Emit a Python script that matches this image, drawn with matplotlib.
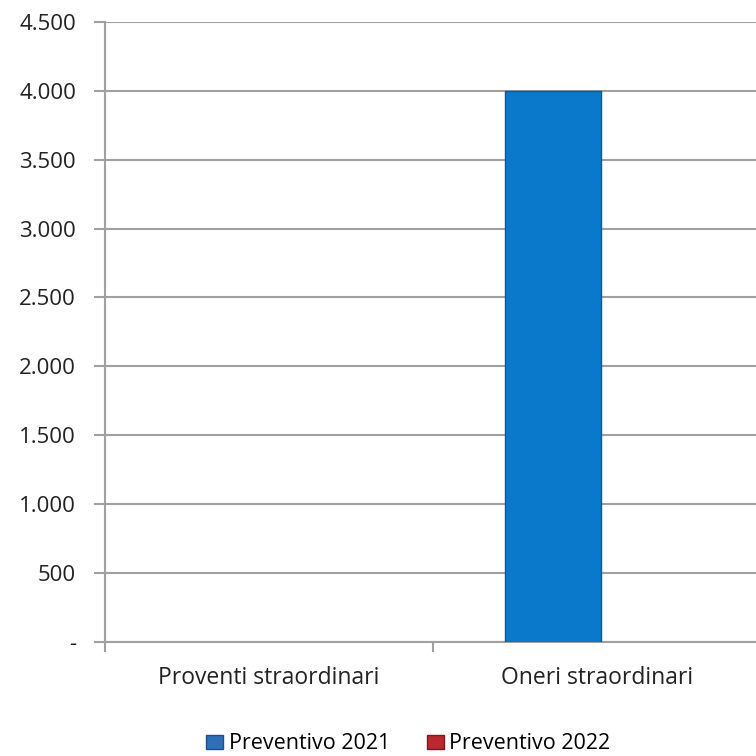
import matplotlib.pyplot as plt
import numpy as np
from matplotlib.patches import Patch

categories = ['Proventi straordinari', 'Oneri straordinari']
series = ['Preventivo 2021', 'Preventivo 2022']
prev_2021 = [0, 4000]
prev_2022 = [0, 0]
yticks = [0, 500, 1000, 1500, 2000, 2500, 3000, 3500, 4000, 4500]
ytick_labels = ['-', '500', '1.000', '1.500', '2.000', '2.500', '3.000', '3.500', '4.000', '4.500']

plt.rcParams['font.family'] = ['Open Sans', 'DejaVu Sans']

fig = plt.figure(figsize=(7.56, 7.56), dpi=100)
ax = fig.add_axes([0.139, 0.151, 0.868, 0.820])

x = np.arange(len(categories)) + 0.5
w = 0.29
lw1 = [1 if v else 0 for v in prev_2021]
lw2 = [1 if v else 0 for v in prev_2022]
ax.bar(x - w / 2 + 0.01, prev_2021, width=w, color='#0a79cc', edgecolor='#0b5a98', linewidth=lw1, zorder=3)
ax.bar(x + w / 2 + 0.01, prev_2022, width=w, color='#c0282e', edgecolor='#8a1a1e', linewidth=lw2, zorder=3)

ax.set_xlim(0, 2)
ax.set_ylim(0, 4500)
ax.set_yticks(yticks)
ax.set_yticklabels(ytick_labels, fontsize=16, color='#222222')
ax.set_xticks(x)
ax.set_xticklabels(categories, fontsize=16.5, color='#222222')
ax.tick_params(axis='x', length=0, pad=17.5)
ax.set_xticks([0, 1, 2], minor=True)
ax.tick_params(axis='x', which='minor', length=7, width=1.5, color='#a0a0a0')
ax.tick_params(axis='y', length=8, width=1.5, color='#a0a0a0', pad=13)

ax.grid(axis='y', color='#a0a0a0', linewidth=1.5, zorder=0)
for s in ['top', 'right']:
    ax.spines[s].set_visible(False)
for s in ['left', 'bottom']:
    ax.spines[s].set_color('#a0a0a0')
    ax.spines[s].set_linewidth(1.5)

handles = [Patch(facecolor='#2f6fb8', edgecolor='#1f4f8a'),
           Patch(facecolor='#b8282e', edgecolor='#7a1a1e')]
fig.legend(handles, series, loc='center', bbox_to_anchor=(0.54, 0.016), ncol=2,
           frameon=False, fontsize=15.5, handlelength=0.8, handleheight=0.6,
           handletextpad=0.25, columnspacing=1.7, borderpad=0.2)

fig.savefig('out.png', dpi=100)
